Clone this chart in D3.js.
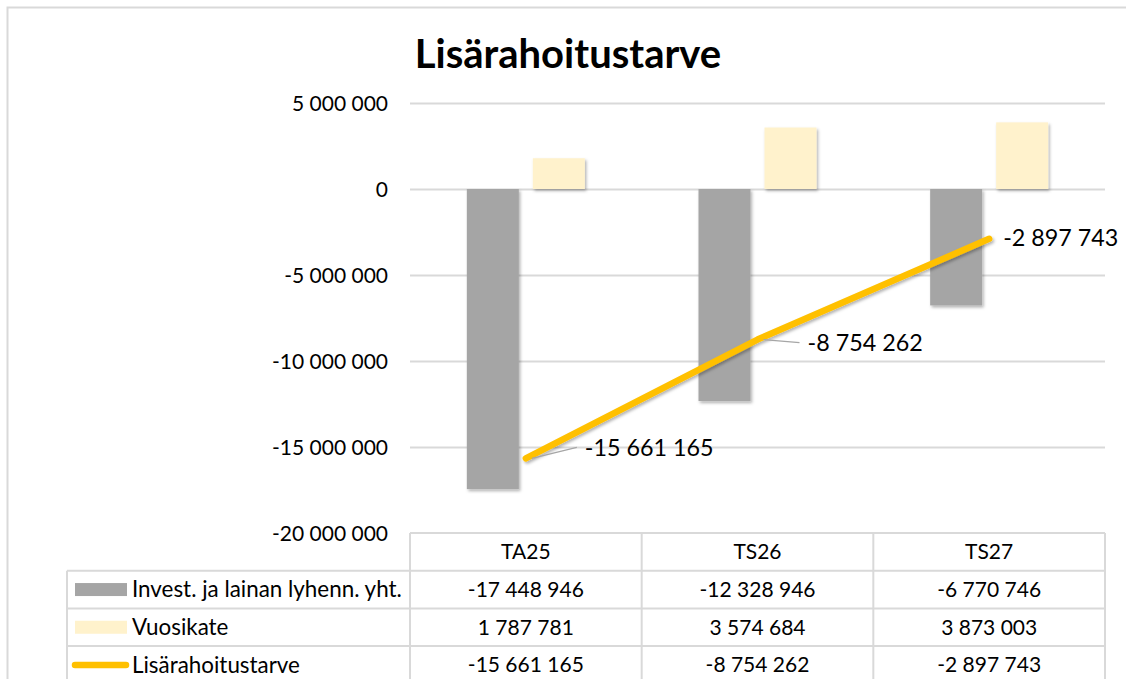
<!DOCTYPE html>
<html>
<head>
<meta charset="utf-8">
<script src="https://cdn.jsdelivr.net/npm/d3@7"></script>
<style>
  html, body { margin: 0; padding: 0; background: #fff; }
  svg { display: block; font-family: Lato, "Open Sans", sans-serif; }
</style>
</head>
<body>
<svg id="chart" width="1126" height="679"></svg>
<script>
// ---- data ----
const title = "Lisärahoitustarve";
const categories = ["TA25", "TS26", "TS27"];
const seriesNames = ["Invest. ja lainan lyhenn. yht.", "Vuosikate", "Lisärahoitustarve"];
const investValues = [-17448946, -12328946, -6770746];
const vuosikateValues = [1787781, 3574684, 3873003];
const lisaValues = [-15661165, -8754262, -2897743];
const yTicks = [5000000, 0, -5000000, -10000000, -15000000, -20000000];

// ---- styles / layout ----
const colors = { invest: "#A5A5A5", vuosikate: "#FFF2CC", lisa: "#FFC000", grid: "#D9D9D9", text: "#000" };
const plot = { left: 410, right: 1105, top: 103, bottom: 533 };
const rowH = 37.7;
const labelOffsets = [[59, -11], [50, 3], [14, -1]];

const locale = d3.formatLocale({ decimal: ",", thousands: " ", grouping: [3], currency: ["", " €"], minus: "-" });
const fmt = locale.format(",d");

const svg = d3.select("#chart");

// drop shadow filter
const defs = svg.append("defs");
const f = defs.append("filter").attr("id", "shadow").attr("x", "-20%").attr("y", "-20%").attr("width", "140%").attr("height", "140%");
f.append("feDropShadow").attr("dx", 1.5).attr("dy", 2).attr("stdDeviation", 1.6).attr("flood-color", "#000").attr("flood-opacity", 0.3);

// outer chart border
svg.append("path").attr("d", "M7.5,700 V7.5 H1126").attr("fill", "none").attr("stroke", colors.grid).attr("stroke-width", 2);

// title
svg.append("text").attr("x", 568).attr("y", 68).attr("text-anchor", "middle")
  .attr("font-size", 40).attr("font-weight", "bold").attr("fill", colors.text).text(title);

// scales
const x = d3.scaleBand().domain(categories).range([plot.left, plot.right]).padding(0);
const y = d3.scaleLinear().domain([-20000000, 5000000]).range([plot.bottom, plot.top]);
const xSub = d3.scaleBand().domain(["invest", "vuosikate"]).range([0, 118]).paddingInner(0.212).paddingOuter(0);
const subOffset = x.bandwidth() / 2 - 59;

// gridlines
const gridAxis = d3.axisLeft(y).tickValues(yTicks).tickSize(-(plot.right - plot.left)).tickFormat("");
const gg = svg.append("g").attr("transform", `translate(${plot.left},0)`).call(gridAxis);
gg.select(".domain").remove();
gg.selectAll("line").attr("stroke", colors.grid).attr("stroke-width", 2);
gg.selectAll("g.tick").filter(d => d === -20000000).remove();

// y tick labels
const yAxis = d3.axisLeft(y).tickValues(yTicks).tickSize(0).tickPadding(0).tickFormat(fmt);
const ya = svg.append("g").attr("transform", `translate(388,0)`).call(yAxis);
ya.select(".domain").remove();
ya.selectAll("text").attr("font-size", 21).attr("fill", colors.text).attr("font-family", "Lato, sans-serif").attr("dy", "0.35em");

// bars
const barsG = svg.append("g").attr("filter", "url(#shadow)");
barsG.selectAll("rect.invest").data(categories).join("rect")
  .attr("x", (d) => x(d) + subOffset + xSub("invest"))
  .attr("width", xSub.bandwidth())
  .attr("y", (d, i) => y(Math.max(0, investValues[i])))
  .attr("height", (d, i) => Math.abs(y(investValues[i]) - y(0)))
  .attr("fill", colors.invest);
barsG.selectAll("rect.vk").data(categories).join("rect")
  .attr("x", (d) => x(d) + subOffset + xSub("vuosikate"))
  .attr("width", xSub.bandwidth())
  .attr("y", (d, i) => y(Math.max(0, vuosikateValues[i])))
  .attr("height", (d, i) => Math.abs(y(vuosikateValues[i]) - y(0)))
  .attr("fill", colors.vuosikate);

// line
const pts = categories.map((c, i) => [x(c) + x.bandwidth() / 2, y(lisaValues[i])]);
svg.append("path").datum(pts)
  .attr("d", d3.line())
  .attr("fill", "none").attr("stroke", colors.lisa).attr("stroke-width", 6.5)
  .attr("stroke-linecap", "round").attr("stroke-linejoin", "round")
  .attr("filter", "url(#shadow)");

// data labels + leader lines
pts.forEach((p, i) => {
  const lx = p[0] + labelOffsets[i][0], ly = p[1] + labelOffsets[i][1];
  if (labelOffsets[i][0] > 30) {
    svg.append("line").attr("x1", lx - 8).attr("y1", ly).attr("x2", p[0] + 6).attr("y2", p[1])
      .attr("stroke", "#A6A6A6").attr("stroke-width", 1.3);
  }
  svg.append("text").attr("x", lx).attr("y", ly).attr("dy", "0.35em")
    .attr("font-size", 23.3).attr("fill", colors.text).text(fmt(lisaValues[i]));
});

// ---- data table ----
const tbl = svg.append("g");
const top0 = plot.bottom;
const tableLeft = 67;
const lineStyle = (sel) => sel.attr("stroke", colors.grid).attr("stroke-width", 2);
// header row
tbl.append("line").attr("x1", plot.left).attr("x2", plot.right).attr("y1", top0).attr("y2", top0).call(lineStyle);
for (let r = 1; r <= 3; r++) {
  tbl.append("line").attr("x1", tableLeft).attr("x2", plot.right).attr("y1", top0 + r * rowH).attr("y2", top0 + r * rowH).call(lineStyle);
}
tbl.append("line").attr("x1", tableLeft).attr("x2", tableLeft).attr("y1", top0 + rowH).attr("y2", 700).call(lineStyle);
categories.forEach((c) => {
  tbl.append("line").attr("x1", x(c)).attr("x2", x(c)).attr("y1", top0).attr("y2", 700).call(lineStyle);
});
tbl.append("line").attr("x1", plot.right).attr("x2", plot.right).attr("y1", top0).attr("y2", 700).call(lineStyle);

const cellText = (tx, ty, t, anchor, size) => tbl.append("text").attr("x", tx).attr("y", ty).attr("dy", "0.35em")
  .attr("text-anchor", anchor || "middle").attr("font-size", size || 21).attr("fill", colors.text).text(t);

categories.forEach((c, i) => {
  const cx = x(c) + x.bandwidth() / 2;
  cellText(cx, top0 + rowH * 0.5, c);
  cellText(cx, top0 + rowH * 1.5, fmt(investValues[i]));
  cellText(cx, top0 + rowH * 2.5, fmt(vuosikateValues[i]));
  cellText(cx, top0 + rowH * 3.5, fmt(lisaValues[i]));
});

// legend keys in table
const ky1 = top0 + rowH * 1.5, ky2 = top0 + rowH * 2.5, ky3 = top0 + rowH * 3.5;
tbl.append("rect").attr("x", 75).attr("y", ky1 - 6.5).attr("width", 52).attr("height", 13).attr("fill", colors.invest);
tbl.append("rect").attr("x", 75).attr("y", ky2 - 6.5).attr("width", 52).attr("height", 13).attr("fill", colors.vuosikate);
tbl.append("line").attr("x1", 75).attr("x2", 126).attr("y1", ky3).attr("y2", ky3)
  .attr("stroke", colors.lisa).attr("stroke-width", 6.5).attr("stroke-linecap", "round");
[ky1, ky2, ky3].forEach((ky, i) => cellText(132, ky, seriesNames[i], "start", 22.4));
</script>
</body>
</html>
